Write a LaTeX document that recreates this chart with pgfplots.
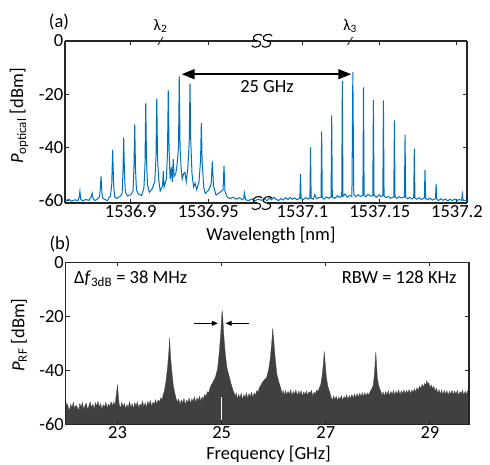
\documentclass[border=0pt]{standalone}
\usepackage{fontspec}
\setmainfont{Carlito}
\usepackage{pgfplots}
\pgfplotsset{compat=1.18}
\usetikzlibrary{arrows.meta}

\definecolor{mblue}{RGB}{0,114,189}
\definecolor{rfgray}{RGB}{64,64,64}
\definecolor{axgray}{RGB}{38,38,38}

\newcommand{\bigfont}{\fontsize{18.5}{22}\selectfont}

\pgfplotsset{
  base/.style={
    scale only axis, height=162pt,
    ytick={-60,-40,-20,0}, yticklabels={-60,-40,-20,0},
    axis line style={axgray, line width=1.1pt},
    tick style={axgray, line width=1pt},
    major tick length=4pt,
    tick label style={font=\bigfont, black},
    xticklabel style={inner sep=2pt},
    yticklabel style={inner sep=1.5pt},
  },
  optical/.style={base, ymin=-61, ymax=0, axis x line*=box},
}

\begin{document}
\begin{tikzpicture}[font=\bigfont]
\useasboundingbox (0,0) rectangle (490pt,465pt);

% (a) optical spectrum, left part of the broken axis (x = wavelength - 1536 nm)
\begin{axis}[optical, axis y line*=left,
  at={(65pt,262pt)}, anchor=south west, width=197pt,
  xmin=0.8577, xmax=0.98457,
  xtick={0.9,0.95}, xticklabels={1536.9,1536.95}]
\addplot[mblue, line width=1pt] coordinates {
 (0.858,-60.2) (0.860,-59.6) (0.862,-60.3) (0.864,-59.8) (0.866,-60.1)
 (0.8668,-59) (0.8673,-56.6) (0.8678,-59.5) (0.869,-60.2) (0.871,-59.7)
 (0.873,-60.0) (0.8745,-58.8) (0.8752,-57.3) (0.8758,-59.4) (0.877,-60.1)
 (0.879,-59.3) (0.8800,-58.5) (0.8805,-55) (0.8809,-51) (0.8813,-55.5)
 (0.8818,-59) (0.883,-59.6) (0.885,-60.1) (0.886,-59.0) (0.887,-58.4)
 (0.8878,-54) (0.8884,-41) (0.8890,-54) (0.8897,-58.7) (0.891,-59.3)
 (0.893,-58.6) (0.8945,-57.5) (0.8950,-50) (0.8955,-36.4) (0.8960,-50)
 (0.8966,-57) (0.898,-58.4) (0.900,-57.9) (0.9015,-56.5) (0.9021,-48)
 (0.9026,-31.4) (0.9031,-48) (0.9037,-56) (0.905,-57.6) (0.907,-58.2)
 (0.9085,-55.5) (0.9092,-47) (0.9097,-23.5) (0.9102,-45) (0.9108,-54)
 (0.912,-57) (0.914,-55.5) (0.9155,-53) (0.9163,-44) (0.9168,-21.7)
 (0.9173,-44) (0.918,-52) (0.919,-56.5) (0.9205,-54.5) (0.921,-49)
 (0.9215,-55) (0.9230,-52) (0.9237,-42) (0.9242,-18.6) (0.9247,-40)
 (0.9252,-49) (0.9255,-52) (0.9262,-47.5) (0.9268,-53) (0.9274,-44.5)
 (0.9280,-51) (0.9290,-50) (0.9298,-47) (0.9308,-40) (0.9313,-13.3)
 (0.9318,-40) (0.9325,-48) (0.9332,-52) (0.9340,-50) (0.9350,-49.5)
 (0.9358,-53) (0.9368,-48) (0.9377,-38) (0.9382,-16.1) (0.9387,-38)
 (0.9395,-50) (0.9405,-55) (0.9415,-53.5) (0.9425,-56) (0.9440,-53)
 (0.9450,-45) (0.9455,-30.8) (0.9460,-45) (0.9470,-55) (0.948,-57.4)
 (0.950,-56.3) (0.9518,-54) (0.9526,-45.3) (0.9533,-54.5) (0.955,-58)
 (0.957,-57.2) (0.9595,-56) (0.9601,-47) (0.9607,-56.5) (0.962,-58.6)
 (0.964,-59.4) (0.966,-58.8) (0.968,-59.6) (0.970,-59) (0.972,-59.8)
 (0.9728,-59.2) (0.9732,-57.2) (0.9740,-59.8) (0.976,-60.1) (0.978,-59.5)
 (0.980,-60.2) (0.982,-59.6) (0.9845,-60)
};
\coordinate (arrL) at (axis cs:0.93286,-12.5);
\coordinate (lam2) at (axis cs:0.9192,0);
\end{axis}

% (a) right part of the broken axis
\begin{axis}[optical, axis y line*=right,
  at={(262pt,262pt)}, anchor=south west, width=205pt,
  xmin=1.07379, xmax=1.2065,
  xtick={1.1,1.15,1.2}, xticklabels={1537.1,1537.15,1537.2},
  yticklabels={}]
\addplot[mblue, line width=1pt] coordinates {
 (1.0738,-60) (1.0755,-59.4) (1.077,-60.2) (1.0785,-59.1) (1.080,-59.8)
 (1.0815,-58.8) (1.083,-59.6) (1.0845,-60.1) (1.086,-59.3) (1.0875,-59.9)
 (1.089,-59) (1.0905,-59.7) (1.092,-58.9) (1.0935,-59.6) (1.095,-59.1)
 (1.0965,-59.8) (1.0983,-59.2) (1.0987,-50.1) (1.0991,-59.3) (1.1005,-59.7)
 (1.102,-59.0) (1.1035,-59.5) (1.1048,-59.1) (1.1052,-40.1) (1.1056,-59.2)
 (1.107,-59.6) (1.108,-57.8) (1.109,-59.4) (1.1105,-59) (1.1120,-58.8)
 (1.1124,-34.1) (1.1128,-59) (1.114,-59.5) (1.1155,-58.7) (1.117,-59.3)
 (1.1185,-58.6) (1.1189,-28) (1.1193,-58.8) (1.121,-59.2) (1.1225,-58.3)
 (1.124,-58.9) (1.1254,-58.4) (1.1258,-15) (1.1262,-58.5) (1.1275,-57.6)
 (1.129,-58.8) (1.1305,-58.1) (1.132,-58.5) (1.1326,-11.7) (1.1332,-57.8)
 (1.1345,-58.6) (1.136,-57.9) (1.1375,-58.5) (1.1391,-58.2) (1.1395,-17.5)
 (1.1399,-58) (1.141,-58.7) (1.1425,-57.7) (1.144,-58.4) (1.1455,-58.3)
 (1.1459,-22.3) (1.1463,-58.1) (1.148,-58.9) (1.1495,-57.9) (1.151,-58.6)
 (1.152,-58.2) (1.1524,-22.4) (1.1528,-58.4) (1.154,-59) (1.1555,-58.5)
 (1.157,-59.2) (1.1591,-58.7) (1.1595,-29.9) (1.1599,-58.8) (1.161,-59.3)
 (1.1625,-58.6) (1.164,-59.1) (1.166,-58.7) (1.1664,-35.3) (1.1668,-58.9)
 (1.168,-59.4) (1.1695,-58.9) (1.171,-59.5) (1.172,-59) (1.1724,-40.5)
 (1.1728,-59.1) (1.174,-59.6) (1.1755,-59.0) (1.177,-59.7) (1.1789,-59.1)
 (1.1793,-48.6) (1.1797,-59.2) (1.181,-59.8) (1.1825,-59.2) (1.184,-59.9)
 (1.1861,-59.4) (1.1865,-53.8) (1.1869,-59.5) (1.188,-60.1) (1.1895,-59.4)
 (1.191,-60) (1.1925,-59.5) (1.194,-60.2) (1.1955,-59.6) (1.197,-60.1)
 (1.1985,-59.5) (1.200,-60.1) (1.2015,-59.7) (1.2030,-60) (1.2035,-57.6)
 (1.2040,-60) (1.2065,-60)
};
\coordinate (arrR) at (axis cs:1.13157,-12.5);
\coordinate (lam3) at (axis cs:1.1308,0);
\end{axis}

% annotations of (a)
\draw[{Triangle[length=13pt,width=10pt]}-{Triangle[length=13pt,width=10pt]}, line width=1.5pt] (arrL) -- (arrR);
\node at (267pt,378pt) {25 GHz};
\foreach \c/\n in {lam2/2, lam3/3} {
  \draw[axgray, line width=0.9pt] ([xshift=-2.5pt,yshift=-4pt]\c) -- ([xshift=2.5pt,yshift=4pt]\c);
  \node[font=\fontsize{16}{18}\selectfont] at ([yshift=15pt]\c) {λ\textsubscript{\n}};
}
% axis break marks
\foreach \y in {424.3pt, 262pt} {
  \fill[white] (257pt,\y-2pt) rectangle (267pt,\y+2pt);
  \foreach \dx in {-5pt, 5pt}
    \draw[black, line width=1.1pt, shift={(262pt+\dx,\y)}, xslant=0.25]
      (3.9pt,4.875pt) arc[start angle=30, end angle=270, x radius=4.5pt, y radius=3.25pt]
      arc[start angle=90, end angle=-150, x radius=4.5pt, y radius=3.25pt];
}
\node at (59pt,443pt) {(a)};
\node at (271pt,230pt) {Wavelength [nm]};
\node[rotate=90] at (19pt,349pt) {\textit{P}\textsubscript{optical} [dBm]};

% (b) RF spectrum
\begin{axis}[base, at={(65.5pt,40.7pt)}, anchor=south west, width=403.5pt,
  xmin=22, xmax=29.75, ymin=-60, ymax=0,
  xtick={23,25,27,29}, xticklabels={23,25,27,29},
  axis on top]
\addplot[fill=rfgray, draw=rfgray, line width=0.3pt] coordinates {
 (22.000,-60)
 (22.000,-54.2) (22.025,-52.1) (22.050,-53.4) (22.075,-55.0) (22.100,-52.6)
 (22.125,-53.9) (22.150,-51.8) (22.175,-54.3) (22.200,-52.9) (22.225,-53.6)
 (22.250,-55.1) (22.275,-52.3) (22.300,-53.7) (22.325,-51.9) (22.350,-54.6)
 (22.375,-53.0) (22.400,-52.2) (22.425,-54.8) (22.450,-53.1) (22.475,-51.7)
 (22.500,-53.9) (22.525,-52.5) (22.550,-54.4) (22.575,-52.0) (22.600,-53.3)
 (22.625,-51.5) (22.650,-53.8) (22.675,-52.4) (22.700,-54.5) (22.725,-52.8)
 (22.750,-53.5) (22.775,-51.9) (22.800,-54.0) (22.825,-52.6) (22.850,-53.4)
 (22.875,-51.6) (22.900,-53.2) (22.925,-51.8) (22.950,-52.9) (22.975,-49)
 (23.000,-45.4) (23.015,-49.5) (23.030,-52.5) (23.055,-54.1) (23.080,-51.9)
 (23.105,-53.5) (23.130,-52.2) (23.155,-54.3) (23.180,-52.7) (23.205,-53.9)
 (23.230,-51.6) (23.255,-53.8) (23.280,-52.4) (23.305,-54.2) (23.330,-52.0)
 (23.355,-53.3) (23.380,-51.7) (23.405,-54.0) (23.430,-52.6) (23.455,-53.1)
 (23.480,-51.4) (23.505,-53.6) (23.530,-52.0) (23.555,-53.9) (23.580,-51.5)
 (23.605,-52.8) (23.630,-51.2) (23.655,-53.4) (23.680,-51.8) (23.705,-52.6)
 (23.730,-50.9) (23.755,-52.5) (23.780,-51.0) (23.805,-51.8) (23.830,-50.2)
 (23.855,-50.9) (23.880,-48.8) (23.900,-47.5) (23.930,-44) (23.960,-39)
 (23.985,-33) (24.000,-28.1) (24.015,-34) (24.040,-40) (24.070,-45.5)
 (24.100,-48.5) (24.125,-50.5) (24.150,-51.8) (24.175,-50.6) (24.200,-52.8)
 (24.225,-51.0) (24.250,-52.2) (24.275,-50.4) (24.300,-52.9) (24.325,-51.1)
 (24.350,-51.9) (24.375,-50.3) (24.400,-52.4) (24.425,-50.6) (24.450,-51.5)
 (24.475,-49.8) (24.500,-52.0) (24.525,-50.2) (24.550,-51.3) (24.575,-49.6)
 (24.600,-51.5) (24.625,-49.9) (24.650,-50.6) (24.675,-48.9) (24.700,-49.8)
 (24.725,-47.9) (24.750,-48.4) (24.775,-46.5) (24.800,-45.5) (24.840,-44.0)
 (24.880,-42.5) (24.920,-39.5) (24.950,-34) (24.980,-27) (25.000,-20)
 (25.010,-17.9) (25.020,-20) (25.040,-27) (25.070,-34) (25.100,-39)
 (25.140,-42) (25.180,-45) (25.220,-47.5) (25.260,-49.5) (25.280,-48.4)
 (25.300,-50.8) (25.325,-48.9) (25.350,-50.2) (25.375,-48.5) (25.400,-51.0)
 (25.425,-49.0) (25.450,-50.1) (25.475,-48.3) (25.500,-50.4) (25.525,-48.6)
 (25.550,-49.8) (25.575,-48.1) (25.600,-50.1) (25.625,-48.4) (25.650,-49.3)
 (25.675,-47.4) (25.700,-48.2) (25.720,-46.5) (25.740,-46.0) (25.780,-44.5)
 (25.820,-43.5) (25.860,-42.8) (25.900,-40) (25.930,-36) (25.960,-30)
 (25.980,-24.5) (26.000,-29) (26.030,-36) (26.060,-41.5) (26.100,-44.5)
 (26.140,-47) (26.160,-48.8) (26.180,-47.4) (26.200,-49.3) (26.225,-47.5)
 (26.250,-49.1) (26.275,-47.8) (26.300,-48.9) (26.325,-47.2) (26.350,-49.4)
 (26.375,-47.9) (26.400,-48.8) (26.425,-47.3) (26.450,-49.5) (26.475,-47.8)
 (26.500,-48.9) (26.525,-47.5) (26.550,-49.7) (26.575,-48.0) (26.600,-49.1)
 (26.625,-47.6) (26.650,-49.3) (26.675,-47.9) (26.700,-48.6) (26.725,-47.4)
 (26.750,-49.6) (26.775,-48.1) (26.800,-48.8) (26.825,-47.3) (26.850,-47.9)
 (26.875,-46.5) (26.900,-45.5) (26.930,-42) (26.950,-38) (26.970,-33.0)
 (26.990,-38) (27.010,-42.5) (27.040,-46) (27.080,-48.5) (27.100,-49.8)
 (27.125,-51.2) (27.150,-49.5) (27.175,-50.9) (27.200,-49.6) (27.225,-51.3)
 (27.250,-49.9) (27.275,-50.8) (27.300,-49.4) (27.325,-51.1) (27.350,-49.7)
 (27.375,-50.5) (27.400,-49.1) (27.425,-50.9) (27.450,-49.3) (27.475,-50.6)
 (27.500,-48.9) (27.525,-50.4) (27.550,-48.8) (27.575,-50.2) (27.600,-48.6)
 (27.625,-50.0) (27.650,-48.5) (27.675,-49.8) (27.700,-48.3) (27.725,-49.9)
 (27.750,-48.2) (27.775,-49.6) (27.800,-48.4) (27.825,-49.2) (27.850,-47.9)
 (27.880,-47) (27.910,-45.5) (27.930,-42) (27.945,-38) (27.960,-33.2)
 (27.975,-38) (27.990,-43) (28.020,-46) (28.060,-48) (28.080,-49.5)
 (28.100,-48.0) (28.125,-49.6) (28.150,-47.9) (28.175,-49.2) (28.200,-47.6)
 (28.225,-49.4) (28.250,-47.8) (28.275,-49.0) (28.300,-47.5) (28.325,-49.3)
 (28.350,-47.7) (28.375,-48.8) (28.400,-47.3) (28.425,-49.1) (28.450,-47.6)
 (28.475,-48.7) (28.500,-47.2) (28.525,-48.9) (28.550,-47.4) (28.575,-48.5)
 (28.600,-47.1) (28.625,-48.8) (28.650,-47.3) (28.675,-48.2) (28.700,-46.9)
 (28.725,-48.0) (28.750,-46.5) (28.775,-47.4) (28.800,-45.9) (28.825,-46.8)
 (28.850,-45.2) (28.875,-46.3) (28.900,-44.8) (28.920,-45.5) (28.940,-43.8)
 (28.960,-45.2) (28.980,-44.6) (29.000,-46.5) (29.025,-45.4) (29.050,-46.8)
 (29.075,-45.9) (29.100,-47.8) (29.125,-46.6) (29.150,-48.6) (29.175,-47.2)
 (29.200,-48.8) (29.225,-47.3) (29.250,-49.1) (29.275,-47.5) (29.300,-48.9)
 (29.325,-47.6) (29.350,-49.2) (29.375,-47.8) (29.400,-48.9) (29.425,-47.4)
 (29.450,-49.0) (29.475,-47.7) (29.500,-48.8) (29.525,-47.5) (29.550,-49.3)
 (29.575,-47.9) (29.600,-48.7) (29.625,-47.4) (29.650,-49.1) (29.675,-47.8)
 (29.700,-48.9) (29.725,-47.6) (29.750,-48.8)
 (29.750,-60)
} -- cycle;
% notch in the trace at 25 GHz
\addplot[white, line width=0.8pt] coordinates {(25.0,-60) (25.0,-50)};
\draw[-{Triangle[length=6pt,width=5pt]}, line width=1pt] (axis cs:24.476,-22.6) -- (axis cs:24.925,-22.6);
\draw[-{Triangle[length=6pt,width=5pt]}, line width=1pt] (axis cs:25.516,-22.6) -- (axis cs:25.074,-22.6);
\node[anchor=base west, inner sep=0pt] at (axis description cs:0.021,0.872) {Δ\textit{f}\textsubscript{3dB} = 38 MHz};
\node[anchor=base east, inner sep=0pt] at (axis description cs:0.9695,0.872) {RBW = 128 KHz};
\end{axis}
\node at (60pt,221pt) {(b)};
\node at (268.5pt,11pt) {Frequency [GHz]};
\node[rotate=90] at (19pt,130pt) {\textit{P}\textsubscript{RF} [dBm]};
\end{tikzpicture}
\end{document}
